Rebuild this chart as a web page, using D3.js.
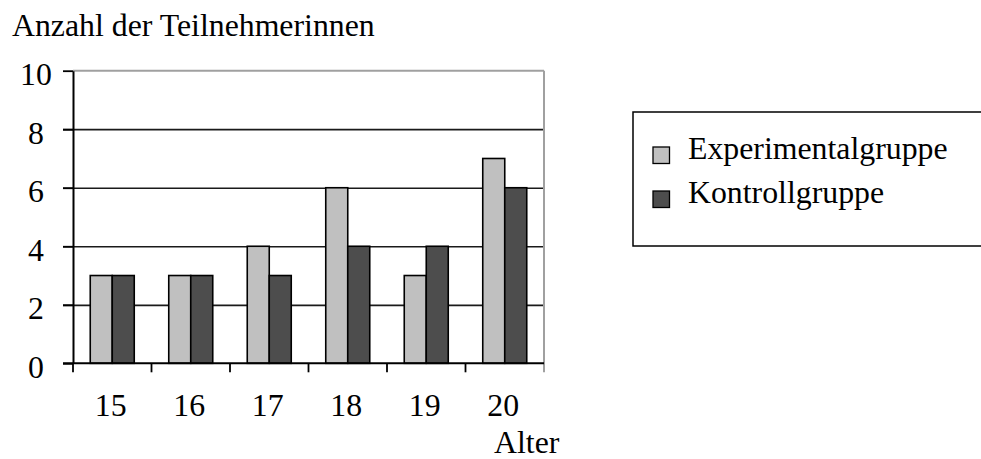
<!DOCTYPE html>
<html>
<head>
<meta charset="utf-8">
<script src="https://cdn.jsdelivr.net/npm/d3@7"></script>
<style>
  html, body { margin: 0; padding: 0; background: #ffffff; }
  svg { display: block; }
  text { font-family: "Liberation Serif", "Times New Roman", serif; fill: #000; }
</style>
</head>
<body>
<svg id="chart" width="981" height="459"></svg>
<script>
// Age groups and participant counts per group
const categories = ["15", "16", "17", "18", "19", "20"];
const seriesNames = ["Experimentalgruppe", "Kontrollgruppe"];
const experimental = [3, 3, 4, 6, 3, 7];
const control = [3, 3, 3, 4, 4, 6];
const yTicks = [0, 2, 4, 6, 8, 10];
const yTitle = "Anzahl der Teilnehmerinnen";
const xTitle = "Alter";

const colors = { "Experimentalgruppe": "#c0c0c0", "Kontrollgruppe": "#4d4d4d" };
const fontSize = 31.8;

const svg = d3.select("#chart");

const plot = { left: 73, right: 544, top: 70.7, bottom: 363.3 };

const x = d3.scaleBand()
  .domain(categories)
  .range([plot.left, plot.right])
  .paddingInner(0)
  .paddingOuter(0);

const groupWidth = 44;
const xInner = d3.scaleBand()
  .domain(seriesNames)
  .range([(x.bandwidth() - groupWidth) / 2, (x.bandwidth() + groupWidth) / 2]);

const y = d3.scaleLinear()
  .domain([0, 10])
  .range([plot.bottom, plot.top]);

// Horizontal gridlines (the top one is drawn in grey as part of the frame)
const grid = svg.append("g")
  .attr("transform", `translate(${plot.left},0)`)
  .call(d3.axisLeft(y).tickValues(yTicks.filter(t => t > 0 && t < 10))
    .tickSize(-(plot.right - plot.left + 10)).tickFormat(""));
grid.select(".domain").remove();
grid.selectAll(".tick line")
  .attr("x1", plot.right - plot.left).attr("x2", -10)
  .attr("stroke", "#1a1a1a").attr("stroke-width", 1.7);

// Grey frame: top edge and right edge
svg.append("line")
  .attr("x1", plot.left).attr("x2", plot.right)
  .attr("y1", y(10)).attr("y2", y(10))
  .attr("stroke", "#a0a0a0").attr("stroke-width", 2);
svg.append("line")
  .attr("x1", plot.right).attr("x2", plot.right)
  .attr("y1", y(10)).attr("y2", plot.bottom + 9)
  .attr("stroke", "#a0a0a0").attr("stroke-width", 2);

// Y axis with ticks and labels
const yAxis = svg.append("g")
  .attr("transform", `translate(${plot.left},0)`)
  .call(d3.axisLeft(y).tickValues(yTicks).tickSize(10).tickSizeOuter(0).tickFormat(d3.format("d")));
yAxis.select(".domain").attr("stroke", "#000").attr("stroke-width", 2);
yAxis.selectAll(".tick line").attr("stroke", "#000").attr("stroke-width", 1.8);
yAxis.selectAll(".tick text")
  .attr("x", 36 - plot.left)
  .attr("dy", null)
  .attr("y", 14)
  .attr("text-anchor", "middle")
  .style("font-family", '"Liberation Serif", "Times New Roman", serif')
  .style("font-size", fontSize + "px");

// Bars
const rows = categories.map((c, i) => ({ cat: c, values: [
  { key: seriesNames[0], value: experimental[i] },
  { key: seriesNames[1], value: control[i] }
]}));

const groups = svg.append("g").selectAll("g")
  .data(rows)
  .join("g")
  .attr("transform", d => `translate(${x(d.cat)},0)`);

groups.selectAll("rect")
  .data(d => d.values)
  .join("rect")
  .attr("x", d => xInner(d.key))
  .attr("width", xInner.bandwidth())
  .attr("y", d => y(d.value))
  .attr("height", d => y(0) - y(d.value))
  .attr("fill", d => colors[d.key])
  .attr("stroke", "#000")
  .attr("stroke-width", 1.6);

// X axis: ticks at band boundaries, labels centred in each band
const boundaries = categories.map(c => x(c));
const xAxis = svg.append("g");
xAxis.append("line")
  .attr("x1", plot.left - 10).attr("x2", plot.right)
  .attr("y1", plot.bottom).attr("y2", plot.bottom)
  .attr("stroke", "#000").attr("stroke-width", 2);
xAxis.selectAll("line.tick")
  .data(boundaries)
  .join("line")
  .attr("class", "tick")
  .attr("x1", d => d).attr("x2", d => d)
  .attr("y1", plot.bottom).attr("y2", plot.bottom + 9)
  .attr("stroke", "#000").attr("stroke-width", 1.8);
xAxis.selectAll("text")
  .data(categories)
  .join("text")
  .attr("x", d => x(d) + x.bandwidth() / 2 - 1.5)
  .attr("y", 416)
  .attr("text-anchor", "middle")
  .style("font-size", fontSize + "px")
  .text(d => d);

// Axis titles
svg.append("text")
  .attr("x", 12).attr("y", 35.5)
  .style("font-size", fontSize + "px")
  .text(yTitle);
svg.append("text")
  .attr("x", 494).attr("y", 453)
  .style("font-size", fontSize + "px")
  .text(xTitle);

// Legend
const legend = svg.append("g");
legend.append("rect")
  .attr("x", 633).attr("y", 112)
  .attr("width", 400).attr("height", 134)
  .attr("fill", "none").attr("stroke", "#000").attr("stroke-width", 1.5);
const items = legend.selectAll("g.item")
  .data(seriesNames)
  .join("g")
  .attr("class", "item")
  .attr("transform", (d, i) => `translate(0,${i * 44})`);
items.append("rect")
  .attr("x", 653).attr("y", 147)
  .attr("width", 16.5).attr("height", 16.5)
  .attr("fill", d => colors[d])
  .attr("stroke", "#000").attr("stroke-width", 1.3);
items.append("text")
  .attr("x", 688).attr("y", 158.5)
  .style("font-size", fontSize + "px")
  .text(d => d);
</script>
</body>
</html>
